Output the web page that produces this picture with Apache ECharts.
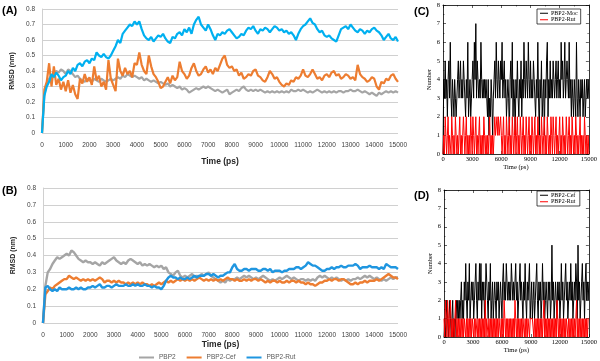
<!DOCTYPE html>
<html><head><meta charset="utf-8">
<script src="https://cdn.jsdelivr.net/npm/echarts@6/dist/echarts.min.js"></script>
<style>html,body{margin:0;padding:0;background:#fff}#c{width:600px;height:361px}</style>
</head><body><div id="c"></div>
<script>
// ---------- DATA ----------
const rmsdStep = 100; // ps between samples
const rmsdSeriesNames = ['PBP2', 'PBP2-Cef', 'PBP2-Rut'];

const rmsdA_PBP2 = [
0,0.25,0.32,0.35,0.37,0.38,0.4,0.39,0.41,0.4,
0.38,0.41,0.4,0.38,0.36,0.37,0.35,0.34,0.33,0.35,
0.34,0.33,0.35,0.34,0.33,0.35,0.34,0.33,0.34,0.35,
0.34,0.35,0.36,0.35,0.37,0.36,0.38,0.37,0.36,0.37,
0.36,0.35,0.36,0.34,0.35,0.34,0.33,0.34,0.33,0.32,
0.33,0.32,0.31,0.32,0.3,0.31,0.3,0.29,0.3,0.28,
0.29,0.28,0.26,0.27,0.28,0.29,0.28,0.29,0.3,0.29,
0.3,0.29,0.28,0.27,0.28,0.27,0.26,0.27,0.28,0.25,
0.26,0.27,0.28,0.27,0.29,0.3,0.28,0.27,0.28,0.27,
0.28,0.27,0.28,0.27,0.26,0.27,0.26,0.27,0.26,0.27,
0.26,0.27,0.26,0.27,0.26,0.28,0.27,0.27,0.28,0.27,
0.28,0.27,0.26,0.27,0.26,0.27,0.28,0.27,0.26,0.27,
0.26,0.27,0.26,0.27,0.26,0.27,0.27,0.26,0.27,0.27,
0.28,0.27,0.27,0.28,0.27,0.26,0.27,0.26,0.25,0.26,
0.25,0.24,0.26,0.25,0.26,0.27,0.26,0.27,0.26,0.27,
0.26];
const rmsdA_Cef = [
0,0.28,0.33,0.45,0.3,0.43,0.31,0.35,0.28,0.33,
0.27,0.34,0.26,0.31,0.25,0.22,0.35,0.32,0.38,0.33,
0.36,0.31,0.43,0.34,0.37,0.3,0.33,0.28,0.47,0.35,
0.31,0.27,0.48,0.4,0.37,0.42,0.38,0.4,0.36,0.45,
0.44,0.52,0.44,0.4,0.38,0.5,0.43,0.38,0.36,0.33,
0.29,0.3,0.33,0.36,0.32,0.37,0.34,0.36,0.46,0.4,
0.38,0.35,0.37,0.42,0.45,0.4,0.37,0.38,0.41,0.43,
0.39,0.41,0.38,0.42,0.4,0.44,0.48,0.5,0.44,0.42,
0.43,0.4,0.41,0.37,0.39,0.35,0.36,0.38,0.37,0.4,
0.41,0.37,0.36,0.34,0.33,0.36,0.4,0.38,0.35,0.36,
0.33,0.31,0.3,0.32,0.31,0.34,0.33,0.36,0.35,0.37,
0.41,0.37,0.36,0.38,0.41,0.38,0.35,0.36,0.34,0.37,
0.38,0.36,0.39,0.4,0.37,0.38,0.35,0.36,0.38,0.37,
0.35,0.36,0.34,0.44,0.38,0.36,0.35,0.33,0.34,0.36,
0.35,0.3,0.28,0.33,0.32,0.35,0.34,0.37,0.38,0.35,
0.33];
const rmsdA_Rut = [
0,0.24,0.3,0.33,0.38,0.36,0.39,0.37,0.34,0.36,
0.37,0.4,0.38,0.42,0.4,0.44,0.45,0.43,0.46,0.47,
0.45,0.48,0.47,0.52,0.5,0.49,0.51,0.49,0.48,0.5,
0.53,0.56,0.6,0.58,0.64,0.66,0.68,0.7,0.69,0.72,
0.7,0.72,0.67,0.63,0.61,0.6,0.62,0.59,0.61,0.63,
0.62,0.64,0.61,0.59,0.58,0.62,0.61,0.64,0.65,0.63,
0.67,0.65,0.68,0.64,0.7,0.73,0.75,0.7,0.68,0.66,
0.7,0.67,0.63,0.6,0.64,0.63,0.65,0.64,0.66,0.67,
0.65,0.63,0.61,0.62,0.64,0.63,0.66,0.68,0.67,0.69,
0.66,0.64,0.67,0.66,0.68,0.67,0.65,0.67,0.69,0.68,
0.66,0.67,0.65,0.66,0.64,0.65,0.63,0.6,0.64,0.67,
0.69,0.7,0.72,0.74,0.71,0.7,0.67,0.65,0.66,0.63,
0.62,0.63,0.61,0.6,0.59,0.63,0.67,0.68,0.69,0.67,
0.7,0.68,0.66,0.65,0.67,0.66,0.64,0.66,0.65,0.67,
0.68,0.66,0.65,0.63,0.6,0.62,0.64,0.61,0.6,0.62,
0.59];

const rmsdB_PBP2 = [
0,0.22,0.3,0.32,0.35,0.37,0.39,0.38,0.39,0.4,
0.41,0.4,0.43,0.42,0.4,0.38,0.37,0.36,0.37,0.36,
0.36,0.35,0.36,0.35,0.34,0.36,0.35,0.36,0.37,0.38,
0.39,0.37,0.36,0.35,0.36,0.35,0.37,0.38,0.37,0.36,
0.35,0.36,0.34,0.35,0.34,0.35,0.34,0.33,0.34,0.33,
0.34,0.32,0.33,0.3,0.29,0.28,0.3,0.31,0.28,0.27,
0.28,0.27,0.28,0.29,0.27,0.28,0.27,0.29,0.28,0.29,
0.3,0.28,0.27,0.26,0.25,0.24,0.25,0.24,0.26,0.25,
0.26,0.26,0.27,0.26,0.27,0.28,0.27,0.28,0.27,0.26,
0.27,0.26,0.27,0.28,0.27,0.26,0.25,0.26,0.25,0.26,
0.27,0.26,0.27,0.28,0.27,0.26,0.27,0.26,0.25,0.26,
0.26,0.25,0.26,0.25,0.26,0.25,0.27,0.28,0.27,0.28,
0.27,0.26,0.27,0.26,0.27,0.26,0.25,0.26,0.25,0.26,
0.25,0.26,0.26,0.27,0.26,0.27,0.28,0.27,0.28,0.27,
0.26,0.27,0.26,0.25,0.26,0.25,0.26,0.27,0.26,0.27,
0.27];
const rmsdB_Cef = [
0,0.17,0.19,0.21,0.2,0.22,0.23,0.24,0.25,0.26,
0.26,0.28,0.27,0.26,0.27,0.26,0.25,0.26,0.25,0.26,
0.25,0.26,0.25,0.26,0.27,0.26,0.24,0.25,0.25,0.24,
0.25,0.24,0.25,0.24,0.24,0.23,0.24,0.23,0.24,0.23,
0.24,0.23,0.24,0.23,0.23,0.22,0.23,0.22,0.23,0.24,
0.23,0.24,0.25,0.24,0.25,0.24,0.25,0.26,0.25,0.26,
0.25,0.26,0.25,0.26,0.25,0.26,0.27,0.26,0.25,0.26,
0.25,0.26,0.25,0.26,0.25,0.26,0.25,0.26,0.27,0.26,
0.26,0.25,0.26,0.25,0.25,0.26,0.25,0.26,0.25,0.26,
0.26,0.25,0.26,0.25,0.24,0.25,0.24,0.25,0.25,0.24,
0.25,0.24,0.24,0.25,0.24,0.25,0.25,0.24,0.25,0.24,
0.24,0.23,0.24,0.23,0.23,0.22,0.23,0.24,0.24,0.25,
0.25,0.26,0.25,0.26,0.26,0.25,0.26,0.26,0.25,0.24,
0.23,0.23,0.24,0.23,0.24,0.24,0.25,0.24,0.25,0.25,
0.25,0.26,0.25,0.26,0.27,0.28,0.29,0.28,0.27,0.27,
0.26];
const rmsdB_Rut = [
0,0.21,0.22,0.2,0.19,0.2,0.19,0.21,0.2,0.2,
0.2,0.21,0.2,0.2,0.21,0.2,0.21,0.2,0.2,0.21,
0.21,0.22,0.21,0.22,0.23,0.21,0.21,0.22,0.22,0.21,
0.22,0.23,0.22,0.22,0.22,0.23,0.22,0.22,0.23,0.22,
0.23,0.22,0.22,0.23,0.22,0.22,0.21,0.22,0.21,0.21,
0.2,0.22,0.25,0.27,0.28,0.27,0.27,0.26,0.27,0.26,
0.26,0.27,0.26,0.27,0.28,0.27,0.28,0.28,0.28,0.29,
0.29,0.28,0.29,0.28,0.27,0.28,0.28,0.29,0.3,0.3,
0.33,0.35,0.32,0.31,0.31,0.32,0.32,0.31,0.32,0.32,
0.32,0.31,0.31,0.32,0.32,0.31,0.32,0.3,0.31,0.31,
0.31,0.3,0.31,0.31,0.32,0.32,0.32,0.33,0.33,0.32,
0.33,0.34,0.36,0.35,0.34,0.34,0.33,0.32,0.31,0.31,
0.32,0.32,0.33,0.32,0.33,0.33,0.34,0.33,0.33,0.34,
0.34,0.34,0.35,0.34,0.32,0.33,0.33,0.33,0.34,0.33,
0.33,0.33,0.32,0.33,0.32,0.35,0.34,0.33,0.33,0.33,
0.32];

const hbStep = 75; // ps between samples
const hbC_Moc = [
0,4,3,5,3,4,2,4,5,3,
6,3,2,4,3,2,4,3,2,3,
4,5,3,4,5,3,4,3,5,4,
3,2,4,3,6,2,3,4,2,3,
4,5,3,6,4,7,3,5,4,3,
4,3,6,4,3,4,3,4,3,4,
3,2,4,1,3,2,4,3,1,3,
4,5,3,6,4,3,5,4,3,5,
4,6,3,4,5,3,4,2,3,4,
3,1,4,5,3,6,2,4,3,1,
4,3,5,3,2,4,3,5,2,4,
3,6,4,3,5,4,3,6,4,3,
5,3,4,3,5,4,3,2,4,3,
6,3,1,4,3,5,2,3,4,1,
4,3,5,6,2,4,3,5,3,4,
3,5,4,3,4,5,3,4,5,3,
4,3,6,4,5,3,4,6,3,4,
5,4,3,6,3,4,2,4,3,2,
4,3,2,6,3,2,4,3,2,4,
3,4,2,3,4,2,3,4,3,4,
3];
const hbC_Rut = [
0,1,0,2,1,0,1,2,0,1,
1,0,2,1,0,1,0,2,1,0,
1,0,1,2,0,1,0,1,2,1,
0,1,2,0,1,0,1,0,2,1,
0,2,1,0,1,2,0,1,0,1,
2,0,1,0,1,0,2,1,0,1,
0,1,0,1,2,0,1,0,1,0,
1,2,1,1,2,1,2,1,1,2,
1,0,1,2,0,1,0,2,1,0,
1,2,0,1,0,2,1,0,1,2,
0,1,2,0,1,0,2,1,0,1,
2,0,1,0,2,1,0,1,2,0,
1,0,2,1,0,1,2,0,1,0,
2,1,0,1,0,2,1,0,1,2,
0,1,0,2,1,0,1,0,2,1,
0,2,1,0,1,2,0,1,0,1,
2,0,1,0,2,1,0,1,0,2,
1,0,1,2,0,1,0,2,1,0,
1,0,2,1,0,1,0,1,2,0,
1,0,1,0,2,1,0,1,0,1,
0];
const hbD_Cef = [
0,1,0,1,2,1,0,1,2,1,
0,1,2,0,1,0,1,2,1,2,
1,2,1,2,3,1,2,1,3,2,
4,2,1,3,2,4,1,2,3,2,
3,1,2,3,4,2,1,3,2,4,
2,4,1,3,2,3,1,2,4,3,
2,1,3,2,4,1,2,3,1,2,
3,2,1,3,2,3,1,2,3,2,
1,3,4,2,3,2,4,3,2,3,
2,3,2,4,3,2,3,2,3,4,
2,3,1,2,3,4,2,3,2,1,
3,2,4,2,1,3,2,3,4,1,
2,3,1,2,3,1,2,3,4,2,
1,3,2,3,1,2,4,2,3,1,
2,3,2,1,3,2,3,1,2,5,
2,3,1,2,3,2,1,3,2,3,
1,2,4,2,3,1,2,3,4,2,
3,1,2,3,2,4,2,3,1,2,
3,2,4,3,1,5,2,3,1,2,
3,4,2,3,1,3,4,2,3,2,
3];
const hbD_Rut = [
1,0,2,1,0,2,1,0,1,2,
0,1,0,1,0,1,2,0,1,0,
1,0,1,0,1,0,1,0,1,1,
0,1,0,1,0,1,0,1,0,1,
1,0,1,0,1,1,0,1,0,1,
0,1,0,1,0,1,0,2,0,1,
1,0,1,0,1,0,1,0,1,0,
1,0,1,0,1,0,1,1,0,1,
0,1,0,2,1,0,1,0,1,0,
1,0,1,0,1,0,1,0,2,1,
0,1,0,1,0,1,0,1,0,1,
1,0,1,0,1,0,1,1,0,1,
1,1,1,1,0,1,0,1,0,1,
0,1,0,1,0,1,0,1,2,0,
1,0,1,0,1,0,1,0,1,0,
1,0,1,0,1,0,2,1,0,1,
0,1,0,1,0,1,0,1,0,1,
1,0,1,0,1,0,1,0,1,0,
1,0,1,2,0,1,0,1,0,1,
0,1,0,1,0,1,0,1,0,1,
1];

// ---------- CHART ----------
function pairs(arr, step) { return arr.map((v, i) => [i * step, v]); }

const sansF = 'Liberation Sans';
const serifF = 'Liberation Serif';
const gray = '#A5A5A5', orange = '#ED7D31', blueA = '#00B0F0', blueB = '#1F96E0';
const plain = v => String(v);

function rmsdX(gi, gap) {
  return {
    gridIndex: gi, type: 'value', min: 0, max: 15000, interval: 1000,
    axisLine: { show: false }, axisTick: { show: false }, splitLine: { show: false },
    axisLabel: { fontFamily: sansF, fontSize: 6.5, color: '#404040', margin: 9, formatter: plain },
    name: 'Time (ps)', nameLocation: 'middle', nameGap: gap,
    nameTextStyle: { fontFamily: sansF, fontSize: 8.5, fontWeight: 'bold', color: '#262626' }
  };
}
function rmsdY(gi) {
  return {
    gridIndex: gi, type: 'value', min: 0, max: 0.8, interval: 0.1,
    axisLine: { show: true, lineStyle: { color: '#d0d0d0', width: 1 } },
    axisTick: { show: false },
    splitLine: { show: true, lineStyle: { color: '#d0d0d0', width: 1 } },
    axisLabel: { fontFamily: sansF, fontSize: 6.5, color: '#404040', margin: 7,
                 formatter: v => (Math.round(v * 10) === 0 ? '0' : v.toFixed(1)) },
    name: 'RMSD (nm)', nameLocation: 'middle', nameGap: 21,
    nameTextStyle: { fontFamily: sansF, fontSize: 7, fontWeight: 'bold', color: '#262626' }
  };
}
function hbX(gi, pos) {
  const bottom = pos === 'bottom';
  return {
    gridIndex: gi, type: 'value', min: 0, max: 15000, interval: 3000, position: pos,
    axisLine: { show: true, onZero: false, lineStyle: { color: '#000', width: 0.8 } },
    axisTick: { show: true, inside: true, length: 3, lineStyle: { color: '#000', width: 0.6 } },
    minorTick: { show: true, splitNumber: 2, length: 1.5, lineStyle: { color: '#000', width: 0.5 } },
    splitLine: { show: false },
    axisLabel: { show: bottom, fontFamily: serifF, fontSize: 6.5, color: '#000', margin: 2, formatter: plain },
    name: bottom ? 'Time (ps)' : '', nameLocation: 'middle', nameGap: 9,
    nameTextStyle: { fontFamily: serifF, fontSize: 6.5, color: '#000' }
  };
}
function hbY(gi, pos) {
  const left = pos === 'left';
  return {
    gridIndex: gi, type: 'value', min: 0, max: 8, interval: 1, position: pos,
    axisLine: { show: true, onZero: false, lineStyle: { color: '#000', width: 0.8 } },
    axisTick: { show: true, inside: true, length: 3, lineStyle: { color: '#000', width: 0.6 } },
    minorTick: { show: true, splitNumber: 2, length: 1.5, lineStyle: { color: '#000', width: 0.5 } },
    splitLine: { show: false },
    axisLabel: { show: left, fontFamily: serifF, fontSize: 6.5, color: '#000', margin: 3 },
    name: left ? 'Number' : '', nameLocation: 'middle', nameGap: 8,
    nameTextStyle: { fontFamily: serifF, fontSize: 6.5, color: '#000' }
  };
}
function line(name, data, step, xi, yi, color, w) {
  return { type: 'line', name, data: pairs(data, step), xAxisIndex: xi, yAxisIndex: yi,
    showSymbol: false, symbol: 'none', sampling: false, lineStyle: { color, width: w },
    itemStyle: { color }, emphasis: { disabled: true }, silent: true };
}
function hbLegend(top, names) {
  return {
    orient: 'vertical', left: 537, top: top, data: names,
    icon: 'rect', itemWidth: 8, itemHeight: 1, itemGap: 0,
    padding: [1, 3, 1, 3], borderColor: '#000', borderWidth: 0.7, backgroundColor: '#fff',
    textStyle: { fontFamily: serifF, fontSize: 6, color: '#000', lineHeight: 6.5, padding: [0, 0, 0, -2] },
    selectedMode: false
  };
}

const chart = echarts.init(document.getElementById('c'), null, { renderer: 'canvas' });
chart.setOption({
  animation: false,
  backgroundColor: '#fff',
  title: [
    { text: '(A)', left: 2, top: 5, textStyle: { fontFamily: sansF, fontSize: 11, fontWeight: 'bold', color: '#000' }, padding: 0 },
    { text: '(B)', left: 2, top: 185, textStyle: { fontFamily: sansF, fontSize: 11, fontWeight: 'bold', color: '#000' }, padding: 0 },
    { text: '(C)', left: 414, top: 6, textStyle: { fontFamily: sansF, fontSize: 11, fontWeight: 'bold', color: '#000' }, padding: 0 },
    { text: '(D)', left: 414, top: 190, textStyle: { fontFamily: sansF, fontSize: 11, fontWeight: 'bold', color: '#000' }, padding: 0 }
  ],
  legend: [
    { left: 139, top: 354, data: rmsdSeriesNames, icon: 'rect', itemWidth: 15, itemHeight: 2, itemGap: 11,
      textStyle: { fontFamily: sansF, fontSize: 6.5, color: '#595959' }, selectedMode: false, padding: 0 },
    hbLegend(9, ['PBP2-Moc', 'PBP2-Rut ']),
    hbLegend(191, ['PBP2-Cef ', 'PBP2-Rut '])
  ],
  grid: [
    { left: 42, top: 9, width: 356, height: 124 },
    { left: 43, top: 188, width: 355, height: 135 },
    { left: 443, top: 5, width: 147, height: 149 },
    { left: 444, top: 190, width: 147, height: 147 }
  ],
  xAxis: [rmsdX(0, 24), rmsdX(1, 16), hbX(2, 'bottom'), hbX(2, 'top'), hbX(3, 'bottom'), hbX(3, 'top')],
  yAxis: [rmsdY(0), rmsdY(1), hbY(2, 'left'), hbY(2, 'right'), hbY(3, 'left'), hbY(3, 'right')],
  series: [
    // panel B first so the shared legend takes its colours
    line('PBP2', rmsdB_PBP2, rmsdStep, 1, 1, gray, 2.4),
    line('PBP2-Cef', rmsdB_Cef, rmsdStep, 1, 1, orange, 2.4),
    line('PBP2-Rut', rmsdB_Rut, rmsdStep, 1, 1, blueB, 2.4),
    line('PBP2', rmsdA_PBP2, rmsdStep, 0, 0, gray, 2.2),
    line('PBP2-Cef', rmsdA_Cef, rmsdStep, 0, 0, orange, 2.2),
    line('PBP2-Rut', rmsdA_Rut, rmsdStep, 0, 0, blueA, 2.2),
    line('PBP2-Moc', hbC_Moc, hbStep, 2, 2, '#000', 1),
    line('PBP2-Rut ', hbC_Rut, hbStep, 2, 2, '#ff0000', 1),
    line('PBP2-Cef ', hbD_Cef, hbStep, 4, 4, '#000', 1),
    line('PBP2-Rut ', hbD_Rut, hbStep, 4, 4, '#ff0000', 1)
  ]
});
</script></body></html>
